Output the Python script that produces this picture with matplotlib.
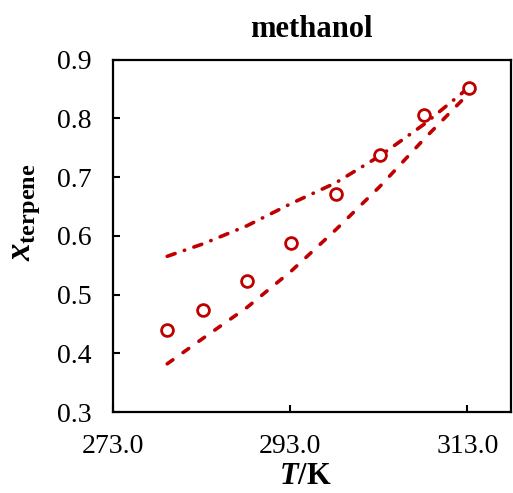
"""Terpene solubility in methanol: data points and two model curves."""

import matplotlib
matplotlib.use("Agg")
import matplotlib.pyplot as plt

plt.rcParams["font.family"] = ["Liberation Serif", "DejaVu Serif"]
plt.rcParams["mathtext.fontset"] = "custom"
plt.rcParams["mathtext.it"] = "Liberation Serif:italic:bold"
plt.rcParams["mathtext.rm"] = "Liberation Serif:bold"
plt.rcParams["mathtext.bf"] = "Liberation Serif:bold"
plt.rcParams["lines.scale_dashes"] = False

RED = "#C00000"

# data
temp_k = [279.15, 283.15, 288.15, 293.15, 298.15, 303.15, 308.15, 313.15]
x_exp = [0.439, 0.473, 0.523, 0.588, 0.671, 0.738, 0.806, 0.852]
x_dashed = [0.382, 0.425, 0.478, 0.540, 0.610, 0.684, 0.765, 0.842]
x_dashdot = [0.565, 0.586, 0.617, 0.655, 0.690, 0.736, 0.790, 0.852]

x_ticks = [273.0, 293.0, 313.0]
y_ticks = [0.3, 0.4, 0.5, 0.6, 0.7, 0.8, 0.9]

fig = plt.figure(figsize=(5.13, 4.93), dpi=100)
ax = fig.add_axes([0.2197, 0.1643, 0.7758, 0.715])

ax.plot(temp_k, x_dashed, color=RED, lw=2.6, dashes=(5, 9),
        dash_capstyle="round")
ax.plot(temp_k, x_dashdot, color=RED, lw=2.6, dashes=(6, 7, 0.3, 7),
        dash_capstyle="round")
ax.plot(temp_k, x_exp, "o", ms=8.5, mfc="white", mec=RED, mew=2.0,
        ls="none")

ax.set_xlim(273.0, 317.9)
ax.set_ylim(0.3, 0.9)
ax.set_xticks(x_ticks)
ax.set_xticklabels([f"{t:.1f}" for t in x_ticks])
ax.set_yticks(y_ticks)
ax.set_yticklabels([f"{v:.1f}" for v in y_ticks])

ax.tick_params(direction="in", length=5, width=1.5, labelsize=20)
ax.tick_params(axis="x", pad=16)
ax.tick_params(axis="y", pad=15)
for spine in ax.spines.values():
    spine.set_linewidth(1.6)

ax.set_title("methanol", fontsize=22, fontweight="bold", pad=16)
fig.text(305 / 513, 1 - 476 / 493, r"$T$/K", fontsize=22, fontweight="bold",
         ha="center", va="center")
fig.text(25 / 513, 1 - 212 / 493, r"$x_{\mathrm{terpene}}$", fontsize=25,
         rotation=90, ha="center", va="center")

fig.savefig("out.png", dpi=100)
